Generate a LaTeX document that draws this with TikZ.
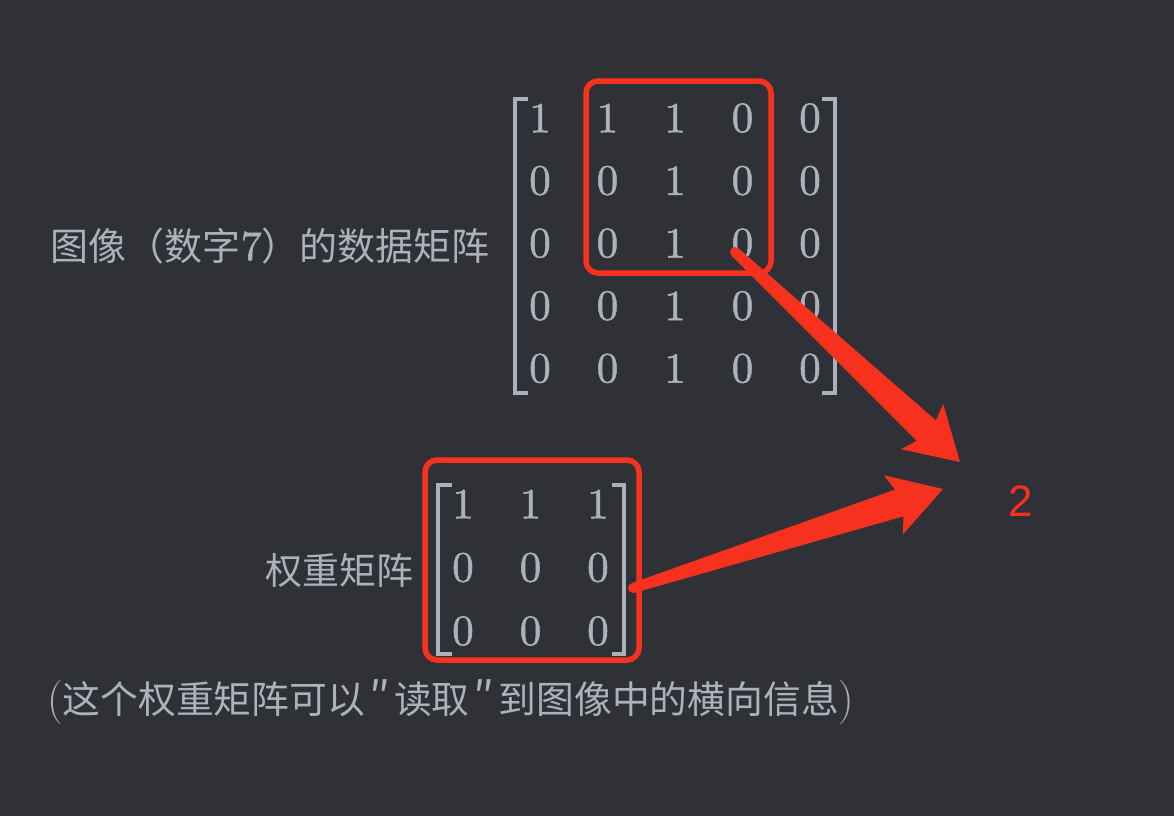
\documentclass[tikz,border=0pt]{standalone}
\usepackage{fontspec}
\newfontfamily\cjk{Noto Sans CJK SC}
\newfontfamily\sanstwo{Liberation Sans}
\newfontfamily\digfont{lmroman10-regular}[Extension=.otf, FakeBold=1.2]
\usetikzlibrary{calc}
\definecolor{bg}{RGB}{47,49,54}
\definecolor{fg}{RGB}{172,178,186}
\definecolor{redmark}{RGB}{246,50,30}
\tikzset{
  dig/.style={text=fg, font=\digfont\fontsize{43}{43}\selectfont, inner sep=0pt},
  brk/.style={draw=fg, line width=3.2pt},
  redbox/.style={draw=redmark, line width=5.5pt, rounded corners=12pt, inner sep=0pt},
  lbl/.style={text=fg, font=\cjk\fontsize{37}{37}\selectfont, inner sep=0pt},
  result/.style={text=redmark, font=\sanstwo\fontsize{44}{44}\selectfont, inner sep=0pt},
}
\newcommand\taperarrow[2]{%
  \fill[redmark] ($(#1)!5pt!90:(#2)$)
    -- ($(#2)!46pt!(#1)!14pt!-90:(#1)$)
    -- ($(#2)!52pt!(#1)!31pt!-90:(#1)$)
    -- (#2)
    -- ($(#2)!52pt!(#1)!31pt!90:(#1)$)
    -- ($(#2)!46pt!(#1)!14pt!90:(#1)$)
    -- ($(#1)!5pt!-90:(#2)$) -- cycle;
  \fill[redmark] (#1) circle[radius=5pt];
}
\newcommand\dq{\makebox[29pt][c]{\fontsize{44}{44}\selectfont ″}}
\begin{document}
\begin{tikzpicture}[x=1pt,y=-1pt]
\useasboundingbox (0,0) rectangle (1174,816);
\fill[bg] (0,0) rectangle (1174,816);

% data matrix
\foreach [count=\c] \v in {1,1,1,0,0} \node[dig] (ma-1-\c) at ({540+67.5*(\c-1)},118) {\v};
\foreach [count=\c] \v in {0,0,1,0,0} \node[dig] (ma-2-\c) at ({540+67.5*(\c-1)},180.6) {\v};
\foreach [count=\c] \v in {0,0,1,0,0} \node[dig] (ma-3-\c) at ({540+67.5*(\c-1)},243.2) {\v};
\foreach [count=\c] \v in {0,0,1,0,0} \node[dig] (ma-4-\c) at ({540+67.5*(\c-1)},305.8) {\v};
\foreach [count=\c] \v in {0,0,1,0,0} \node[dig] (ma-5-\c) at ({540+67.5*(\c-1)},368.4) {\v};
\draw[brk] (528,99) -- (515,99) -- (515,393) -- (528,393);
\draw[brk] (822,99) -- (835,99) -- (835,393) -- (822,393);

% weight matrix
\foreach [count=\c] \v in {1,1,1} \node[dig] (mb-1-\c) at ({463+67.5*(\c-1)},504) {\v};
\foreach [count=\c] \v in {0,0,0} \node[dig] (mb-2-\c) at ({463+67.5*(\c-1)},567.5) {\v};
\foreach [count=\c] \v in {0,0,0} \node[dig] (mb-3-\c) at ({463+67.5*(\c-1)},631) {\v};
\draw[brk] (452,485) -- (438,485) -- (438,654) -- (452,654);
\draw[brk] (612,485) -- (624,485) -- (624,654) -- (612,654);

% red boxes
\node[redbox, minimum width=185pt, minimum height=192pt] (box1) at (678.5,177) {};
\node[redbox, minimum width=214pt, minimum height=200pt] (box2) at (532,560) {};

% labels
\node[lbl, anchor=base east, font=\cjk\fontsize{38}{38}\selectfont] (lab1) at (490,260) {图像（数字{\digfont\fontsize{42}{42}\selectfont 7}）的数据矩阵};
\node[lbl, anchor=base east] (lab2) at (414,584) {权重矩阵};
\node[lbl, anchor=base west, font=\cjk\fontsize{37.8}{37.8}\selectfont] (note) at (47,713) {{\rmfamily\fontsize{44}{44}\selectfont (}这个权重矩阵可以\dq 读取\dq 到图像中的横向信息{\rmfamily\fontsize{44}{44}\selectfont )}};

% result
\node[result] (res) at (1021,501) {2};

% arrows
\coordinate (a1s) at (735,252);
\coordinate (a1t) at (960,462);
\coordinate (a2s) at (633,588);
\coordinate (a2t) at (943,489);
\taperarrow{a1s}{a1t}
\taperarrow{a2s}{a2t}
\end{tikzpicture}
\end{document}
